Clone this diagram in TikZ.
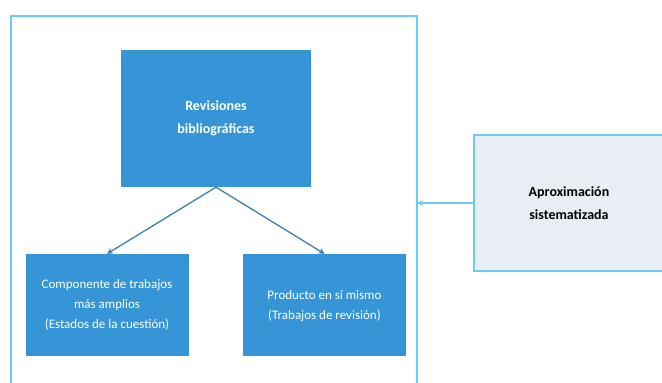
\documentclass[tikz,border=0pt]{standalone}
\usepackage{fontspec}
\setmainfont{Carlito}
\usetikzlibrary{arrows.meta}

\definecolor{boxblue}{HTML}{3595D7}
\definecolor{framecyan}{HTML}{6CCBF3}
\definecolor{linkblue}{HTML}{3E7FAE}
\definecolor{paleblue}{HTML}{E8EEF3}

\begin{document}
\begin{tikzpicture}[
                x=1pt, y=-1pt,
                every node/.style={font=\fontsize{13}{20}\selectfont, align=center},
                bluebox/.style={fill=boxblue, text=white, inner sep=0pt},
                link/.style={draw=linkblue, line width=1.3pt, -{Stealth[length=6pt,width=6pt]}}
            ]

                \useasboundingbox (0,0) rectangle (662,383);

                % outer frame, open at the bottom
                \draw[framecyan, line width=1.6pt] (11,395) -- (11,16) -- (417,16) -- (417,395);
                \coordinate (frameR) at (417,203);

                \node[bluebox, minimum width=190pt, minimum height=137pt,
                      font=\fontsize{14}{23}\selectfont\bfseries] (rev) at (216,118.5)
                    {Revisiones\\bibliográficas};

                \node[bluebox, minimum width=163pt, minimum height=102pt] (comp) at (107,305)
                    {Componente de trabajos\\más amplios\\(Estados de la cuestión)};

                \node[bluebox, minimum width=163pt, minimum height=102pt] (prod) at (324.5,305)
                    {\raisebox{8pt}{\begin{tabular}{@{}c@{}}Producto en sí mismo\\(Trabajos de revisión)\end{tabular}}};

                \node[fill=paleblue, draw=framecyan, line width=1.6pt, minimum width=190pt,
                      minimum height=136pt, font=\fontsize{14}{23}\selectfont\bfseries] (aprox) at (569,203)
                    {Aproximación\\sistematizada};

                \draw[link] (rev.south) -- (comp.north);
                \draw[link] (rev.south) -- (prod.north);
                \draw[framecyan, line width=1.6pt, -{Stealth[length=6pt,width=6pt]}] (aprox.west) -- (frameR);

            \end{tikzpicture}
\end{document}
